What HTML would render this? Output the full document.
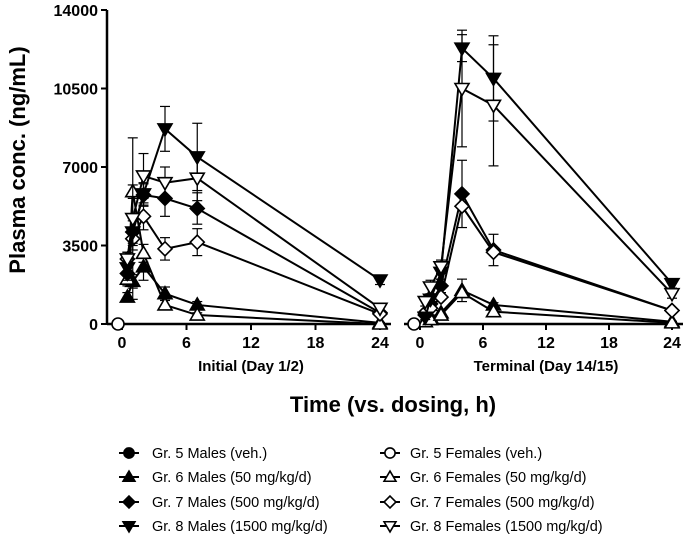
<!DOCTYPE html>
<html><head><meta charset="utf-8"><style>
body{margin:0;background:#fff}
svg{display:block;font-family:"Liberation Sans",Arial,sans-serif}
</style></head><body>
<svg id="c" width="685" height="544">
<g id="axes"></g><g id="series"></g><g id="legend"></g>
</svg>
<script>
const yTicks=[0,3500,7000,10500,14000];
const yTickLabels=["0","3500","7000","10500","14000"];
const xTicks=[0,6,12,18,24];
const times=[0.5,1,2,4,7,24];
const groups=["Gr. 5 Males (veh.)","Gr. 6 Males (50 mg/kg/d)","Gr. 7 Males (500 mg/kg/d)","Gr. 8 Males (1500 mg/kg/d)","Gr. 5 Females (veh.)","Gr. 6 Females (50 mg/kg/d)","Gr. 7 Females (500 mg/kg/d)","Gr. 8 Females (1500 mg/kg/d)"];
// initial day values
const init6M=[1200,1900,2550,1350,850,50];
const init7M=[2250,4100,5750,5600,5150,500];
const init8M=[2500,4100,5800,8700,7450,1960];
const init6F=[2000,5900,3150,850,400,0];
const init7F=[2900,3800,4800,3350,3650,450];
const init8F=[2900,4700,6600,6300,6500,700];
const initErr8M=[300,500,500,1000,1500,200];
const initErr8F=[300,3600,1000,700,1000,100];
const initErr7M=[300,600,500,800,700,100];
const initErr7F=[300,500,600,500,600,100];
const initErr6M=[200,300,600,300,150,20];
const initErr6F=[300,300,400,200,100,20];
// terminal day values
const term6M=[100,300,500,1500,850,100];
const term7M=[400,900,1700,5800,3300,600];
const term8M=[300,1100,2300,12300,10950,1800];
const term6F=[100,200,400,1400,550,50];
const term7F=[500,700,1200,5250,3200,600];
const term8F=[1000,1650,2550,10500,9750,1350];
const termErr8M=[100,200,300,600,1900,200];
const termErr8F=[200,300,300,2600,2700,200];
const termErr7M=[100,200,300,1500,700,100];
const termErr6M=[50,100,100,500,100,20];

const NS="http://www.w3.org/2000/svg";
const gA=document.getElementById('axes'),gS=document.getElementById('series'),gL=document.getElementById('legend');
function el(t,a,p){const e=document.createElementNS(NS,t);for(const k in a)e.setAttribute(k,a[k]);(p||gS).appendChild(e);return e;}
const y=v=>324-v/14000*314;
const xL=t=>122+t*10.75;
const xR=t=>420+t*10.5;

let ax=el('line',{x1:107,y1:10,x2:107,y2:324,stroke:'#000','stroke-width':2.5},gA);

yTicks.forEach((v,i)=>{
 el('line',{x1:101,x2:107,y1:y(v),y2:y(v),stroke:'#000','stroke-width':2},gA);
 const t=el('text',{x:98,y:y(v)+6,'text-anchor':'end','font-size':16,'font-weight':'bold'},gA);
 t.textContent=yTickLabels[i];
 
});
let b1=el('line',{x1:107,y1:324,x2:391,y2:324,stroke:'#000','stroke-width':2.5},gA);

let b2=el('line',{x1:404,y1:324,x2:683,y2:324,stroke:'#000','stroke-width':2.5},gA);

[[xL],[xR]].forEach(([f])=>xTicks.forEach(v=>{
 el('line',{x1:f(v),x2:f(v),y1:324,y2:330,stroke:'#000','stroke-width':2},gA);
 const t=el('text',{x:f(v),y:348,'text-anchor':'middle','font-size':16,'font-weight':'bold'},gA);
 t.textContent=v;
 
}));
function txt(s,a,name){const t=el('text',a,gA);t.textContent=s;return t;}
txt('Initial (Day 1/2)',{x:251,y:371,'text-anchor':'middle','font-size':15,'font-weight':'bold'},'panel-label-initial');
txt('Terminal (Day 14/15)',{x:546,y:371,'text-anchor':'middle','font-size':15,'font-weight':'bold'},'panel-label-terminal');
txt('Time (vs. dosing, h)',{x:393,y:412,'text-anchor':'middle','font-size':22,'font-weight':'bold'},'x-axis-title');
txt('Plasma conc. (ng/mL)',{x:0,y:0,'text-anchor':'middle','font-size':22,'font-weight':'bold',transform:'translate(25,160) rotate(-90)'},'y-axis-title');

function marker(type,cx,cy,g,k){
 k=k||1;let e;const fill=type.f?'#000':'#fff';
 if(type.m==='circle')e=el('circle',{cx,cy,r:6*k,fill,stroke:'#000','stroke-width':1.6},g);
 else if(type.m==='up')e=el('polygon',{points:`${cx},${cy-7*k} ${cx+7*k},${cy+5*k} ${cx-7*k},${cy+5*k}`,fill,stroke:'#000','stroke-width':1.6},g);
 else if(type.m==='down')e=el('polygon',{points:`${cx},${cy+7*k} ${cx+7*k},${cy-5*k} ${cx-7*k},${cy-5*k}`,fill,stroke:'#000','stroke-width':1.6},g);
 else e=el('polygon',{points:`${cx},${cy-7*k} ${cx+7*k},${cy} ${cx},${cy+7*k} ${cx-7*k},${cy}`,fill,stroke:'#000','stroke-width':1.6},g);
 return e;
}
function series(vals,errs,fx,type,name){
 const g=el('g',{});
 if(errs)vals.forEach((v,i)=>{const X=fx(times[i]);
  el('line',{x1:X,x2:X,y1:y(v+errs[i]),y2:y(Math.max(0,v-errs[i])),stroke:'#000','stroke-width':1.2},g);
  [v+errs[i],Math.max(0,v-errs[i])].forEach(w=>el('line',{x1:X-5,x2:X+5,y1:y(w),y2:y(w),stroke:'#000','stroke-width':1.2},g));
 });
 el('polyline',{points:vals.map((v,i)=>fx(times[i])+','+y(v)).join(' '),fill:'none',stroke:'#000','stroke-width':2},g);
 vals.forEach((v,i)=>{const m=marker(type,fx(times[i]),y(v),g);});
}
const T={c:{m:'circle',f:1},cO:{m:'circle',f:0},u:{m:'up',f:1},uO:{m:'up',f:0},d:{m:'diamond',f:1},dO:{m:'diamond',f:0},v:{m:'down',f:1},vO:{m:'down',f:0}};
series(init6M,initErr6M,xL,T.u,'initial-gr6-males');
series(init6F,initErr6F,xL,T.uO,'initial-gr6-females');
series(init7M,initErr7M,xL,T.d,'initial-gr7-males');
series(init7F,initErr7F,xL,T.dO,'initial-gr7-females');
series(init8M,initErr8M,xL,T.v,'initial-gr8-males');
series(init8F,initErr8F,xL,T.vO,'initial-gr8-females');
series(term6M,termErr6M,xR,T.u,'terminal-gr6-males');
series(term6F,null,xR,T.uO,'terminal-gr6-females');
series(term7M,termErr7M,xR,T.d,'terminal-gr7-males');
series(term7F,null,xR,T.dO,'terminal-gr7-females');
series(term8M,termErr8M,xR,T.v,'terminal-gr8-males');
series(term8F,termErr8F,xR,T.vO,'terminal-gr8-females');
let m1=marker(T.cO,118,324,gS);
let m2=marker(T.cO,414,324,gS);

const legTypes=[T.c,T.u,T.d,T.v,T.cO,T.uO,T.dO,T.vO];
const rowY=[453,477,502,526];
groups.forEach((g,i)=>{
 const col=i<4?0:1,r=i%4;const mx=col?390:129,tx=col?410:152;
 const gg=el('g',{},gL);
 el('line',{x1:mx-10,x2:mx+10,y1:rowY[r],y2:rowY[r],stroke:'#000','stroke-width':2},gg);
 marker(legTypes[i],mx,rowY[r],gg,0.85);
 const t=el('text',{x:tx,y:rowY[r]+5,'font-size':14.5},gg);t.textContent=g;
});
</script>
</body></html>
